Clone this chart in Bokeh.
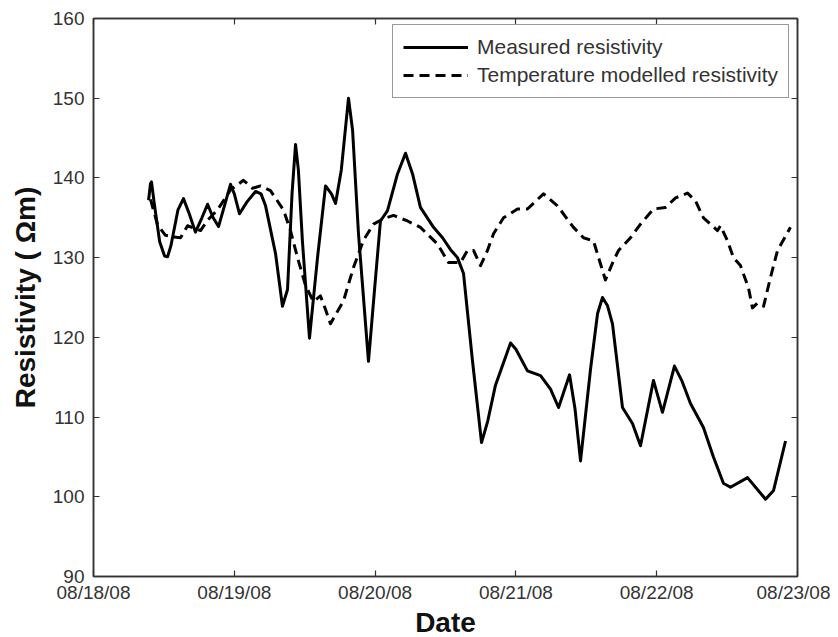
import numpy as np
import pandas as pd
from bokeh.plotting import figure
from bokeh.models import (Range1d, FixedTicker, DatetimeTickFormatter, LinearAxis,
                          DatetimeAxis, Legend, LegendItem, ColumnDataSource)
from bokeh.embed import file_html
from bokeh.resources import INLINE

# ---- data (time in days after 08/18/08 00:00, resistivity in ohm-m) ----
measured_days = [0.391, 0.405, 0.412, 0.430, 0.470, 0.505, 0.526, 0.550, 0.600, 0.639,
                 0.680, 0.724, 0.770, 0.810, 0.850, 0.888, 0.930, 0.973, 1.000, 1.037,
                 1.090, 1.151, 1.190, 1.222, 1.293, 1.342, 1.378, 1.410, 1.435, 1.455,
                 1.484, 1.534, 1.591, 1.648, 1.690, 1.719, 1.760, 1.811, 1.840, 1.882,
                 1.953, 1.996, 2.038, 2.088, 2.159, 2.216, 2.266, 2.322, 2.415, 2.479,
                 2.536, 2.585, 2.628, 2.692, 2.756, 2.800, 2.855, 2.962, 3.000, 3.082,
                 3.175, 3.246, 3.303, 3.381, 3.420, 3.459, 3.530, 3.580, 3.615, 3.650,
                 3.686, 3.757, 3.828, 3.885, 3.977, 4.041, 4.126, 4.180, 4.240, 4.332,
                 4.403, 4.474, 4.524, 4.645, 4.773, 4.830, 4.915]
measured_res = [137.2, 139.3, 139.5, 137.0, 132.0, 130.2, 130.1, 131.5, 136.0, 137.4,
                135.5, 133.2, 135.0, 136.7, 135.0, 133.9, 136.5, 139.2, 138.0, 135.5,
                137.0, 138.3, 138.0, 136.5, 130.5, 123.9, 126.0, 138.0, 144.2, 141.0,
                132.0, 119.9, 130.0, 139.0, 138.0, 136.8, 141.0, 150.0, 146.0, 133.0,
                117.0, 126.0, 134.6, 135.9, 140.5, 143.1, 140.5, 136.3, 133.8, 132.5,
                131.0, 130.0, 128.0, 117.0, 106.8, 109.5, 114.0, 119.3, 118.5, 115.8,
                115.2, 113.5, 111.2, 115.3, 111.0, 104.5, 116.0, 123.0, 125.0, 124.0,
                121.7, 111.2, 109.2, 106.4, 114.6, 110.6, 116.4, 114.5, 111.7, 108.7,
                105.0, 101.7, 101.2, 102.4, 99.7, 100.8, 107.0]

model_days = [0.405, 0.455, 0.511, 0.568, 0.618, 0.668, 0.760, 0.810, 0.881, 0.973,
              1.065, 1.129, 1.186, 1.257, 1.349, 1.399, 1.449, 1.506, 1.562, 1.612,
              1.648, 1.683, 1.776, 1.847, 1.918, 1.989, 2.060, 2.131, 2.230, 2.322,
              2.443, 2.521, 2.607, 2.656, 2.699, 2.749, 2.798, 2.841, 2.912, 3.011,
              3.082, 3.196, 3.295, 3.409, 3.480, 3.551, 3.601, 3.636, 3.693, 3.729,
              3.814, 3.885, 3.977, 4.063, 4.134, 4.219, 4.276, 4.332, 4.396, 4.432,
              4.453, 4.503, 4.545, 4.595, 4.652, 4.680, 4.716, 4.759, 4.808, 4.858,
              4.950]
model_res = [137.3, 134.1, 132.8, 132.6, 132.5, 134.0, 133.4, 134.7, 136.0, 138.5,
             139.7, 138.7, 139.0, 138.4, 136.0, 133.4, 130.0, 126.5, 124.5, 125.2,
             123.5, 121.7, 124.6, 128.8, 132.2, 134.2, 134.9, 135.3, 134.6, 133.8,
             131.7, 129.4, 129.4, 130.9, 130.9, 129.0, 130.9, 133.0, 135.0, 136.1,
             136.1, 138.0, 136.5, 133.8, 132.5, 132.1, 129.2, 127.2, 129.6, 130.9,
             132.5, 134.2, 136.1, 136.3, 137.5, 138.1, 137.1, 135.0, 134.0, 133.4,
             134.0, 132.1, 130.0, 129.0, 126.2, 123.7, 124.3, 123.9, 127.5, 130.9,
             133.8]

tick_dates = ["2008-08-18", "2008-08-19", "2008-08-20", "2008-08-21", "2008-08-22", "2008-08-23"]
y_ticks = [90, 100, 110, 120, 130, 140, 150, 160]

start = pd.Timestamp("2008-08-18")
mx = start + pd.to_timedelta(measured_days, unit="D")
tx = start + pd.to_timedelta(model_days, unit="D")

src_m = ColumnDataSource(dict(x=mx, y=measured_res))
src_t = ColumnDataSource(dict(x=tx, y=model_res))

FONT = "Liberation Sans"
TXT = "#333333"

p = figure(x_axis_type="datetime", output_backend="svg", toolbar_location=None,
           frame_width=704, frame_height=558,
           min_border_left=93, min_border_right=33, min_border_top=18, min_border_bottom=55,
           x_range=Range1d(pd.Timestamp(tick_dates[0]), pd.Timestamp(tick_dates[-1])),
           y_range=Range1d(90, 160))
p.background_fill_color = "white"
p.border_fill_color = "white"
p.outline_line_color = "#333333"
p.outline_line_width = 1.5
p.xgrid.visible = False
p.ygrid.visible = False

xticks_ms = [pd.Timestamp(d).value / 1e6 for d in tick_dates]

def style_axis(ax, show_labels=True):
    ax.axis_line_color = "#333333"
    ax.axis_line_width = 1.5
    ax.major_tick_in = 6
    ax.major_tick_out = 0
    ax.minor_tick_in = 0
    ax.minor_tick_out = 0
    ax.major_tick_line_color = "#333333"
    ax.major_tick_line_width = 1.2
    ax.major_label_text_font = FONT
    ax.major_label_text_font_size = "19px"
    ax.major_label_text_color = TXT if show_labels else None
    ax.axis_label_text_font = FONT
    ax.axis_label_text_font_style = "bold"
    ax.axis_label_text_font_size = "28px"
    ax.axis_label_text_color = "#111111"

xa = p.xaxis[0]
xa.ticker = FixedTicker(ticks=xticks_ms)
xa.formatter = DatetimeTickFormatter(days="%m/%d/%y", months="%m/%d/%y", hours="%m/%d/%y")
xa.axis_label = "Date"
xa.major_label_standoff = 5
xa.axis_label_standoff = 1
style_axis(xa)

ya = p.yaxis[0]
ya.ticker = FixedTicker(ticks=y_ticks)
ya.axis_label = "Resistivity ( \u03a9m)"
ya.major_label_standoff = 9
ya.axis_label_standoff = 9
style_axis(ya)

top = DatetimeAxis(ticker=FixedTicker(ticks=xticks_ms))
style_axis(top, False)
top.major_label_text_font_size = "0px"
top.major_label_standoff = 0
p.add_layout(top, "above")
right = LinearAxis(ticker=FixedTicker(ticks=y_ticks))
style_axis(right, False)
right.major_label_text_font_size = "0px"
right.major_label_standoff = 0
p.add_layout(right, "right")

r_m = p.line("x", "y", source=src_m, line_color="black", line_width=3, line_join="round")
r_t = p.line("x", "y", source=src_t, line_color="black", line_width=3, line_dash="10 6",
             line_join="round")

legend = Legend(items=[LegendItem(label="Measured resistivity", renderers=[r_m]),
                       LegendItem(label="Temperature modelled resistivity", renderers=[r_t])],
                location=(299, 478))
legend.label_text_font = FONT
legend.label_text_font_size = "21px"
legend.label_text_color = TXT
legend.glyph_width = 65
legend.glyph_height = 24
legend.label_height = 24
legend.label_standoff = 9
legend.spacing = 4
legend.padding = 10
legend.margin = 0
legend.border_line_color = "#333333"
legend.border_line_width = 1.5
legend.background_fill_color = "white"
p.add_layout(legend)

open("out.html", "w").write(file_html(p, INLINE))
